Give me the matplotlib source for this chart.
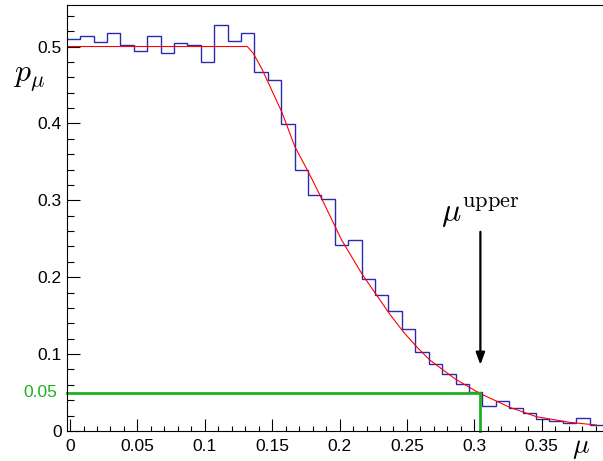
import matplotlib
matplotlib.use('Agg')
import matplotlib.pyplot as plt
import numpy as np
from matplotlib.ticker import FixedLocator, FixedFormatter

# ---------------- data ----------------
hist_lo, hist_hi, n_bins = -0.0025, 0.3955, 40
hist_values = [0.5095, 0.514, 0.5065, 0.517, 0.502, 0.4948, 0.514, 0.491, 0.504, 0.5017,
               0.480, 0.528, 0.5078, 0.517, 0.4675, 0.4566, 0.3994, 0.3395, 0.307, 0.3014,
               0.242, 0.249, 0.1973, 0.1769, 0.1565, 0.1323, 0.1024, 0.0867, 0.0737, 0.0607,
               0.0512, 0.032, 0.039, 0.030, 0.023, 0.0154, 0.0132, 0.011, 0.0173, 0.0083]

fit_mu = [-0.0025, 0.1315, 0.1359, 0.1421, 0.157, 0.1668, 0.1767, 0.1866, 0.2015, 0.2163,
          0.2269, 0.2373, 0.2472, 0.2571, 0.2669, 0.2768, 0.2862, 0.304, 0.3263, 0.3461,
          0.3707, 0.3905]
fit_p = [0.5, 0.5, 0.4913, 0.4718, 0.4154, 0.3699, 0.3373, 0.3027, 0.2485, 0.2051,
         0.1782, 0.1518, 0.1292, 0.1097, 0.0924, 0.0794, 0.0672, 0.049, 0.0308, 0.0186,
         0.0113, 0.0078]

mu_upper = 0.3045
p_threshold = 0.05
arrow_top = 0.259
arrow_tip = 0.086

x_ticks = [0, 0.05, 0.1, 0.15, 0.2, 0.25, 0.3, 0.35]
x_tick_labels = ['0', '0.05', '0.1', '0.15', '0.2', '0.25', '0.3', '0.35']
y_ticks = [0, 0.1, 0.2, 0.3, 0.4, 0.5]
y_tick_labels = ['0', '0.1', '0.2', '0.3', '0.4', '0.5']

# ---------------- style ----------------
plt.rcParams['mathtext.fontset'] = 'cm'
plt.rcParams['font.family'] = ['Liberation Sans', 'DejaVu Sans']

W, H = 603, 461
fig = plt.figure(figsize=(W / 100, H / 100), dpi=100)
ax_l, ax_r, ax_b, ax_t = 66.7, 603, 431, 5
ax = fig.add_axes([ax_l / W, (H - ax_b) / H, (ax_r - ax_l) / W, (ax_b - ax_t) / H])

edges = np.linspace(hist_lo, hist_hi, n_bins + 1)
ax.stairs(hist_values, edges, baseline=None, color='#2a2aae', lw=1.0)
ax.plot(fit_mu, fit_p, color='#ff0000', lw=0.8)
ax.plot([hist_lo, mu_upper, mu_upper], [p_threshold, p_threshold, 0],
        color='#1fb01f', lw=2.0, solid_joinstyle='miter', clip_on=False)

ax.annotate('', xy=(mu_upper, arrow_tip), xytext=(mu_upper, arrow_top),
            arrowprops=dict(arrowstyle='-|>,head_length=0.6,head_width=0.22',
                            color='black', lw=1.6, mutation_scale=12,
                            shrinkA=0, shrinkB=0))
ax.text(0.2755, 0.2735, r'$\mu^{\mathrm{upper}}$', fontsize=23,
        ha='left', va='baseline')

ax.set_xlim(hist_lo, hist_hi)
ax.set_ylim(0, 0.554)

ax.xaxis.set_major_locator(FixedLocator(x_ticks))
ax.xaxis.set_major_formatter(FixedFormatter(x_tick_labels))
ax.xaxis.set_minor_locator(FixedLocator(np.round(np.arange(0, 0.395, 0.01), 3)))
ax.yaxis.set_major_locator(FixedLocator(y_ticks))
ax.yaxis.set_major_formatter(FixedFormatter(y_tick_labels))
ax.yaxis.set_minor_locator(FixedLocator(np.round(np.arange(0, 0.55, 0.02), 3)))

ax.tick_params(axis='both', which='both', direction='in', top=False, right=False,
               labelsize=12.5, width=0.8, color='black')
ax.tick_params(axis='x', which='major', length=8.5, pad=6)
ax.tick_params(axis='x', which='minor', length=3.8)
ax.tick_params(axis='y', which='major', length=9.3, pad=3.5)
ax.tick_params(axis='y', which='minor', length=5)

for s in ['left', 'bottom', 'top']:
    ax.spines[s].set_linewidth(0.8)
ax.spines['right'].set_visible(False)

ax.annotate('0.05', xy=(0, p_threshold), xycoords=('axes fraction', 'data'),
            xytext=(-7, 0), textcoords='offset points', ha='right', va='center',
            color='#1fb01f', fontsize=12.5)

fig.text(13 / W, (H - 82) / H, r'$p_{\mu}$', fontsize=23, ha='left', va='baseline')
fig.text(572 / W, (H - 453) / H, r'$\mu$', fontsize=20, ha='left', va='baseline')

fig.savefig('out.png', dpi=100)
